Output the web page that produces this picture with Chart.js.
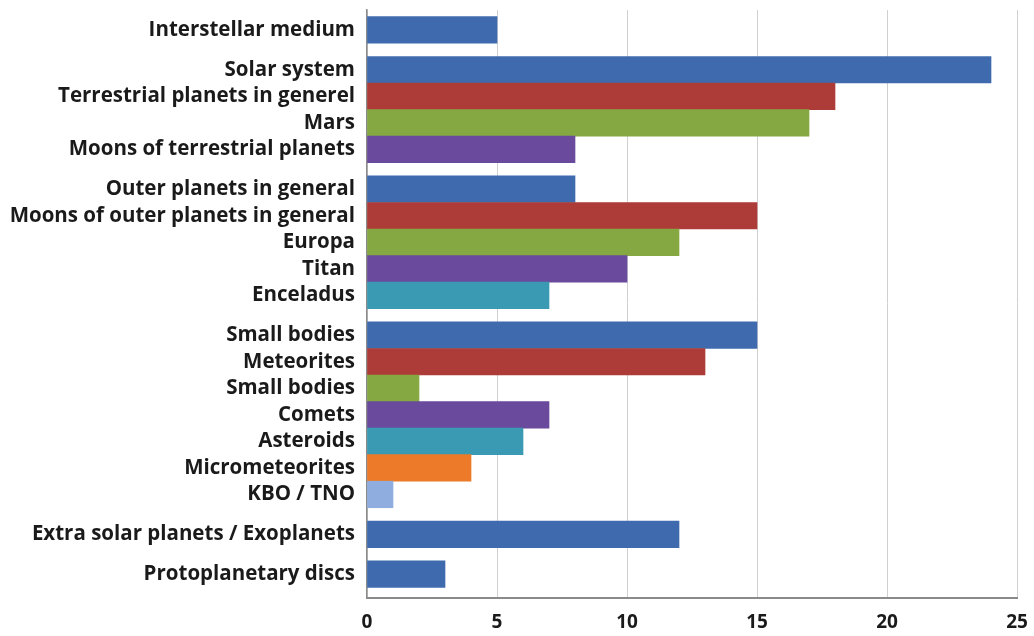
<!DOCTYPE html>
<html>
<head>
<meta charset="utf-8">
<script src="https://cdn.jsdelivr.net/npm/chart.js@4"></script>
<style>
  html, body { margin: 0; padding: 0; background: #fff; }
  #wrap { width: 1034px; height: 636px; }
</style>
</head>
<body>
<div id="wrap"><canvas id="chart"></canvas></div>
<script>
// categories top to bottom
var categories = [
    'Interstellar medium',
    'Solar system', 'Terrestrial planets in generel', 'Mars', 'Moons of terrestrial planets',
    'Outer planets in general', 'Moons of outer planets in general', 'Europa', 'Titan', 'Enceladus',
    'Small bodies', 'Meteorites', 'Small bodies', 'Comets', 'Asteroids', 'Micrometeorites', 'KBO / TNO',
    'Extra solar planets / Exoplanets',
    'Protoplanetary discs'
];
var values = [5, 24, 18, 17, 8, 8, 15, 12, 10, 7, 15, 13, 2, 7, 6, 4, 1, 12, 3];
// how many bars belong to each block
var groupSizes = [1, 4, 5, 7, 1, 1];
var xTicks = [0, 5, 10, 15, 20, 25];
var palette = ['#3f6bae', '#ad3b37', '#86a843', '#6a4a9c', '#3a9ab3', '#ec7a28', '#8fadde'];

// row positions: bars inside a block touch, half a row between blocks
var rowPos = [];
var colors = [];
var pos = 0;
groupSizes.forEach(function(n) {
    for (var i = 0; i < n; i++) {
        rowPos.push(pos);
        colors.push(palette[i]);
        pos += 1;
    }
    pos += 0.5;
});
var lastPos = rowPos[rowPos.length - 1];

var catFont = { family: 'Open Sans', size: 20.5, weight: 'bold' };
var tickFont = { family: 'Open Sans', size: 19, weight: 'bold' };

var ctx = document.getElementById('chart').getContext('2d');
var chart = new Chart(ctx, {
    type: 'bar',
    data: {
        datasets: [{
            data: values.map(function(v, i) { return { x: v, y: rowPos[i] }; }),
            backgroundColor: colors,
            borderWidth: 0,
            barPercentage: 1,
            categoryPercentage: 1
        }]
    },
    options: {
        indexAxis: 'y',
        responsive: true,
        maintainAspectRatio: false,
        animation: false,
        layout: { padding: { top: 10, right: 17, left: 0, bottom: 0 } },
        plugins: {
            legend: { display: false },
            tooltip: { enabled: false }
        },
        scales: {
            x: {
                type: 'linear',
                min: xTicks[0],
                max: xTicks[xTicks.length - 1],
                afterBuildTicks: function(scale) {
                    scale.ticks = xTicks.map(function(v) { return { value: v }; });
                },
                afterFit: function(scale) {
                    scale.height = 38;
                    scale.paddingLeft = 0;
                    scale.paddingRight = 0;
                },
                grid: { color: '#d0d0d0', lineWidth: 1, drawTicks: false },
                border: { display: true, color: '#8a8a8a', width: 2 },
                ticks: { font: tickFont, color: '#1a1a1a', padding: 13 }
            },
            y: {
                type: 'linear',
                reverse: true,
                offset: false,
                min: -0.75,
                max: lastPos + 0.9,
                afterBuildTicks: function(scale) {
                    scale.ticks = rowPos.map(function(v) { return { value: v }; });
                },
                afterFit: function(scale) {
                    scale.width = 367;
                    scale.paddingTop = 0;
                    scale.paddingBottom = 0;
                },
                grid: { display: false, drawTicks: false, offset: false },
                border: { display: true, color: '#8a8a8a', width: 1.5 },
                ticks: {
                    autoSkip: false,
                    font: catFont,
                    color: '#1a1a1a',
                    padding: 12,
                    callback: function(value, index) { return categories[index]; }
                }
            }
        }
    }
});
</script>
</body>
</html>
